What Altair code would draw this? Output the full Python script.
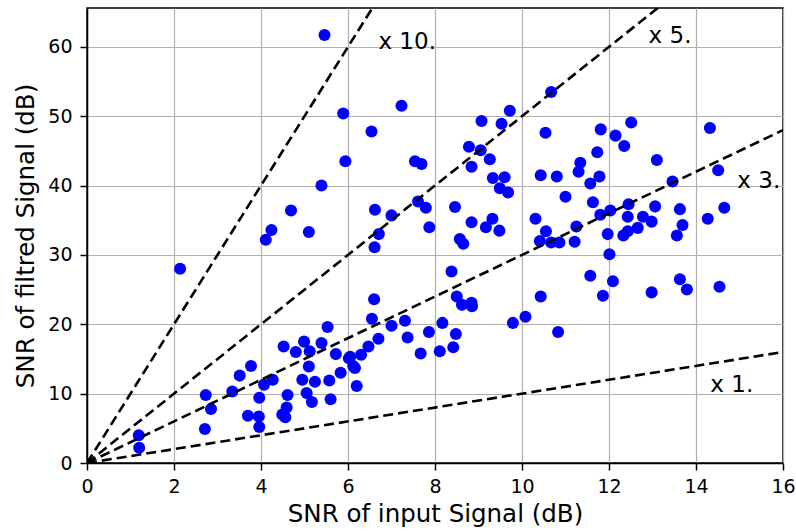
import altair as alt
import pandas as pd

# Input SNR (dB) of each measurement
x_in = [5.46, 5.89, 5.94, 5.39, 4.69, 4.24, 5.10, 4.11, 2.14, 5.53,
        4.52, 4.99, 4.80, 5.12, 5.39, 5.72, 5.10, 6.02, 6.12, 5.83,
        6.20, 3.77, 3.51, 3.34, 4.07, 4.27, 3.96, 3.70, 3.95, 3.96,
        4.95, 5.24, 5.57, 5.05, 5.17, 5.60, 4.61, 4.59, 4.49, 4.56,
        2.73, 2.85, 2.71, 1.19, 1.20, 6.30, 6.47, 6.55, 6.60, 7.23,
        6.54, 7.54, 7.69, 6.62, 7.00, 6.71, 6.61, 7.61, 7.79, 7.87,
        8.46, 8.84, 8.57, 8.65, 9.32, 9.17, 9.48, 9.07, 9.72, 9.53,
        10.67, 10.54, 8.78, 9.05, 9.26, 8.84, 9.33, 9.60, 9.49, 9.68,
        10.43, 10.80, 11.00, 10.31, 10.55, 10.41, 10.67, 10.86, 11.21, 11.25,
        11.81, 12.15, 12.51, 12.35, 14.32, 11.73, 13.10, 11.34, 11.30, 11.57,
        11.78, 13.46, 14.51, 11.63, 12.45, 12.03, 11.80, 13.06, 12.43, 12.78,
        12.98, 13.63, 14.65, 14.27, 13.69, 13.56, 12.66, 12.43, 12.33, 11.97,
        12.01, 11.57, 12.09, 11.86, 12.98, 13.63, 13.79, 14.54, 10.43, 10.83,
        8.38, 8.50, 8.62, 8.84, 8.85, 7.31, 7.00, 6.70, 7.37, 7.86,
        8.17, 7.67, 8.11, 8.48, 8.42, 9.79, 10.08, 6.05, 6.16]

# Filtered SNR (dB) of each measurement
y_out = [61.7, 50.4, 43.5, 40.0, 36.4, 33.6, 33.3, 32.2, 28.0, 19.6,
         16.8, 17.5, 16.0, 16.1, 17.3, 15.7, 13.9, 15.1, 14.0, 13.0,
         11.1, 14.0, 12.6, 10.3, 11.3, 12.0, 9.4, 6.8, 6.7, 5.2,
         12.0, 11.7, 11.9, 10.1, 8.8, 9.2, 9.8, 8.0, 7.0, 6.6,
         9.8, 7.8, 4.9, 4.0, 2.2, 15.6, 16.8, 20.8, 23.6, 51.5,
         47.8, 43.5, 43.1, 36.5, 35.7, 33.0, 31.1, 37.7, 36.8, 34.0,
         36.9, 34.7, 32.3, 31.6, 35.2, 34.0, 33.5, 49.3, 50.8, 48.9,
         53.5, 47.6, 45.6, 45.1, 43.8, 42.7, 41.1, 41.2, 39.6, 39.0,
         41.5, 41.3, 38.4, 35.2, 33.4, 32.0, 31.8, 31.8, 31.9, 34.1,
         48.1, 47.2, 49.1, 45.7, 48.3, 44.8, 43.7, 43.3, 42.0, 40.3,
         41.3, 40.6, 42.2, 37.6, 37.3, 36.4, 35.8, 37.0, 35.5, 35.5,
         34.8, 36.6, 36.8, 35.2, 34.3, 32.8, 33.9, 33.4, 32.8, 33.0,
         30.1, 27.0, 26.2, 24.1, 24.6, 26.5, 25.0, 25.4, 24.0, 18.9,
         27.6, 24.0, 22.8, 23.1, 22.6, 20.5, 19.8, 17.9, 18.1, 18.9,
         20.2, 15.8, 16.1, 18.6, 16.7, 20.2, 21.1, 15.3, 13.7]

# Reference gain lines
slopes = [1, 3, 5, 10]
slope_labels = ["x 1.", "x 3.", "x 5.", "x 10."]
label_x = [14.33, 14.95, 12.91, 6.70]
label_y = [11.25, 40.7, 61.5, 60.75]

x_ticks = [0, 2, 4, 6, 8, 10, 12, 14, 16]
y_ticks = [0, 10, 20, 30, 40, 50, 60]

pts = pd.DataFrame({"x": x_in, "y": y_out})
lines = pd.DataFrame(
    [{"slope": s, "x": xv, "y": s * xv} for s in slopes for xv in (0, 16)]
)
labels = pd.DataFrame({"x": label_x, "y": label_y, "text": slope_labels})
origin = pd.DataFrame({"x": [0], "y": [0]})

xs = alt.Scale(domain=[0, 16], nice=False, zero=False)
ys = alt.Scale(domain=[0, 65.6], nice=False, zero=False)

x_enc = alt.X("x:Q", scale=xs,
              axis=alt.Axis(values=x_ticks, title="SNR of input Signal (dB)",
                            labelPadding=7, titlePadding=6, labelFlush=False))
y_enc = alt.Y("y:Q", scale=ys,
              axis=alt.Axis(values=y_ticks, title="SNR of filtred Signal (dB)",
                            labelPadding=8, titlePadding=9, labelFlush=False))

points = alt.Chart(pts).mark_circle(size=145, color="#0000ff", opacity=1).encode(
    x=x_enc, y=y_enc)

origin_dot = alt.Chart(origin).mark_circle(size=90, color="black", opacity=1,
                                           clip=True).encode(x=x_enc, y=y_enc)

dash_lines = alt.Chart(lines).mark_line(
    color="black", strokeDash=[10, 5], strokeWidth=2.6, clip=True
).encode(x=x_enc, y=y_enc, detail="slope:N")

texts = alt.Chart(labels).mark_text(
    align="left", baseline="middle", fontSize=23, font="DejaVu Sans", color="black"
).encode(x=x_enc, y=y_enc, text="text:N")

chart = alt.layer(points, origin_dot, dash_lines, texts).properties(
    width=696,
    height=455,
    autosize=alt.AutoSizeParams(type="none"),
    padding={"left": 87, "top": 8, "right": 13, "bottom": 68},
    background="white",
).configure_view(
    stroke="black", strokeWidth=1.5
).configure_axis(
    domainColor="black", domainWidth=1.5,
    tickColor="black", tickWidth=1.5, tickSize=7,
    gridColor="#b0b0b0", gridWidth=1.2,
    labelFont="DejaVu Sans", titleFont="DejaVu Sans",
    labelFontSize=19, titleFontSize=24.5,
    labelColor="black", titleColor="black",
    titleFontWeight="normal",
)

chart.save("out.html", embed_options={"renderer": "svg", "actions": False})
